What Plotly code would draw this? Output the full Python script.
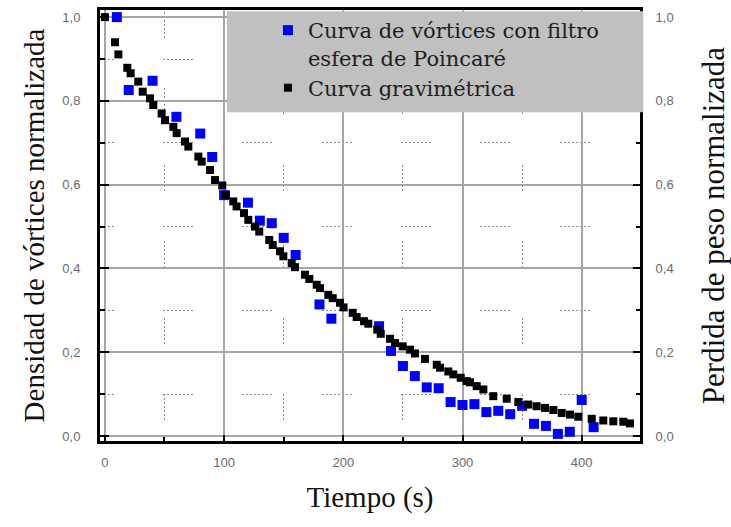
import plotly.graph_objects as go

# ---- data ----
t_vort = [10, 20, 40, 60, 80, 90, 100, 120, 130, 140, 150, 160, 180, 190,
          230, 240, 250, 260, 270, 280, 290, 300, 310, 320, 330, 340, 350,
          360, 370, 380, 390, 400, 410]
v_vort = [1.0, 0.826, 0.848, 0.762, 0.722, 0.666, 0.575, 0.557, 0.514, 0.508,
          0.473, 0.432, 0.314, 0.280, 0.262, 0.203, 0.167, 0.143, 0.116, 0.114,
          0.081, 0.074, 0.076, 0.057, 0.060, 0.052, 0.072, 0.029, 0.024, 0.005,
          0.010, 0.086, 0.021]

t_grav = [0, 8.5, 11.3, 18.8, 21.6, 28, 31.7, 37.8, 40.6, 47.6, 50.4, 57.4, 60.2,
          67.2, 70, 78.4, 81.2, 88.2, 92.4, 98.5, 101.6, 107.7, 110.5, 116.7,
          120.3, 125.9, 129.5, 137.9, 140.8, 146.9, 149.7, 156.7, 159.5, 167.9,
          171.5, 177.7, 180.5, 187.4, 191.1, 197.2, 200.2, 207.9, 211.2, 217.4,
          221, 228.5, 231.4, 239.2, 243.4, 249.8, 256, 260.1, 268.5, 278.4, 281.1,
          288.1, 292.3, 298.5, 303.5, 306.3, 311.9, 317.5, 325.8, 337.1, 346.8,
          355.2, 362.2, 369.2, 376.2, 383.2, 390.2, 397.1, 408.4, 418.1, 426.5,
          434.9, 440.5]
v_grav = [1.0, 0.940, 0.911, 0.879, 0.866, 0.846, 0.822, 0.806, 0.790, 0.770,
          0.754, 0.738, 0.723, 0.703, 0.691, 0.667, 0.655, 0.635, 0.611, 0.598,
          0.576, 0.560, 0.548, 0.532, 0.516, 0.500, 0.488, 0.468, 0.456, 0.441,
          0.429, 0.413, 0.403, 0.385, 0.375, 0.361, 0.353, 0.337, 0.329, 0.318,
          0.307, 0.294, 0.284, 0.274, 0.268, 0.254, 0.244, 0.232, 0.222, 0.214,
          0.206, 0.197, 0.184, 0.170, 0.163, 0.154, 0.147, 0.139, 0.131, 0.128,
          0.119, 0.111, 0.095, 0.089, 0.081, 0.075, 0.071, 0.067, 0.062, 0.055,
          0.051, 0.046, 0.041, 0.037, 0.035, 0.034, 0.030]

x_ticks = [0, 100, 200, 300, 400]
x_labels = ["0", "100", "200", "300", "400"]
x_minor = [50, 150, 250, 350]
y_ticks = [0.0, 0.2, 0.4, 0.6, 0.8, 1.0]
y_labels = ["0,0", "0,2", "0,4", "0,6", "0,8", "1,0"]
y_minor = [0.1, 0.3, 0.5, 0.7, 0.9]

name_vort = "Curva de vórtices con filtro<br>esfera de Poincaré"
name_grav = "Curva gravimétrica"
x_title = "Tiempo (s)"
y_title = "Densidad de vórtices normalizada"
y2_title = "Perdida de peso normalizada"


# ---- dotted, broken minor-grid pattern (style only) ----
def dash_pattern(first, period, seglen, total, dot=2.0, gap=2.0):
    dots = []
    s = first
    while s < total:
        p = s
        while p < s + seglen:
            a, b = max(p, 0.0), min(p + dot, total)
            if b > a:
                dots.append((a, b))
            p += dot + gap
        s += period
    arr = []
    if dots and dots[0][0] > 0:
        arr += [0.0, dots[0][0]]
    for i, (a, b) in enumerate(dots):
        nxt = dots[i + 1][0] if i + 1 < len(dots) else total + 50
        arr += [b - a, nxt - b]
    return ",".join("%.1fpx" % v for v in arr)


hdash = dash_pattern(-16.3, 79.3, 30, 540)
vdash = dash_pattern(2, 76.5, 25, 431)

tickfont = dict(family="Liberation Sans, Arial", size=13, color="#6b6b6b")
titlefont = dict(family="Liberation Serif, Times New Roman", size=29, color="#111111")
title2font = dict(family="Liberation Serif, Times New Roman", size=31, color="#111111")
xr = [-4.1, 448.9]
yr = [-0.012, 1.017]

fig = go.Figure()
fig.add_trace(go.Scatter(
    x=t_vort, y=v_vort, mode="markers", name=name_vort, yaxis="y",
    marker=dict(symbol="square", size=10, color="#0000ff", line=dict(width=0)),
))
fig.add_trace(go.Scatter(
    x=t_grav, y=v_grav, mode="markers", name=name_grav, yaxis="y2",
    marker=dict(symbol="square", size=8, color="#000000", line=dict(width=0)),
))

fig.update_layout(
    width=731, height=527,
    margin=dict(l=100, r=91, t=10, b=86, autoexpand=False),
    paper_bgcolor="white", plot_bgcolor="white",
    separators=",.",
    showlegend=True,
    legend=dict(x=0.311, y=1.0, xanchor="left", yanchor="top",
                bgcolor="rgba(0,0,0,0)", borderwidth=0, valign="top",
                font=dict(family="DejaVu Serif", size=21, color="#1e1e1e")),
    shapes=[dict(type="rect", xref="paper", yref="paper", x0=0.235, x1=1.006,
                 y0=0.763, y1=0.997, fillcolor="#c0c0c0", line=dict(width=0),
                 layer="above")],
    xaxis=dict(
        range=xr, tickmode="array", tickvals=x_ticks, ticktext=x_labels,
        automargin=False,
        showline=True, linecolor="black", linewidth=3, mirror=True,
        ticks="inside", ticklen=6, tickwidth=2, tickcolor="black",
        showgrid=True, gridcolor="#a6a6a6", gridwidth=1.5, zeroline=False,
        tickfont=tickfont, ticklabelstandoff=7,
        minor=dict(tickmode="array", tickvals=x_minor, ticks="inside", ticklen=4,
                   tickwidth=2, tickcolor="black", showgrid=True,
                   gridcolor="#8c8c8c", gridwidth=1, griddash=vdash),
        title=dict(text=x_title, font=titlefont, standoff=19),
    ),
    yaxis=dict(
        range=yr, tickmode="array", tickvals=y_ticks, ticktext=y_labels,
        automargin=False,
        showline=True, linecolor="black", linewidth=3, mirror=False,
        ticks="inside", ticklen=9, tickwidth=2, tickcolor="black",
        showgrid=True, gridcolor="#a6a6a6", gridwidth=1.5, zeroline=False,
        tickfont=tickfont, ticklabelstandoff=14,
        minor=dict(tickmode="array", tickvals=y_minor, ticks="inside", ticklen=5,
                   tickwidth=2, tickcolor="black", showgrid=True,
                   gridcolor="#8c8c8c", gridwidth=1, griddash=hdash),
        title=dict(text=y_title, font=titlefont, standoff=10),
    ),
    yaxis2=dict(
        range=yr, overlaying="y", side="right", anchor="x",
        automargin=False,
        tickmode="array", tickvals=y_ticks, ticktext=y_labels,
        showline=True, linecolor="black", linewidth=3,
        ticks="inside", ticklen=7, tickwidth=2, tickcolor="black",
        showgrid=False, zeroline=False, tickfont=tickfont, ticklabelstandoff=10,
        minor=dict(tickmode="array", tickvals=y_minor, ticks="inside", ticklen=4,
                   tickwidth=2, tickcolor="black", showgrid=False),
        title=dict(text=y2_title, font=title2font, standoff=35),
    ),
)

fig.write_html("out.html")
